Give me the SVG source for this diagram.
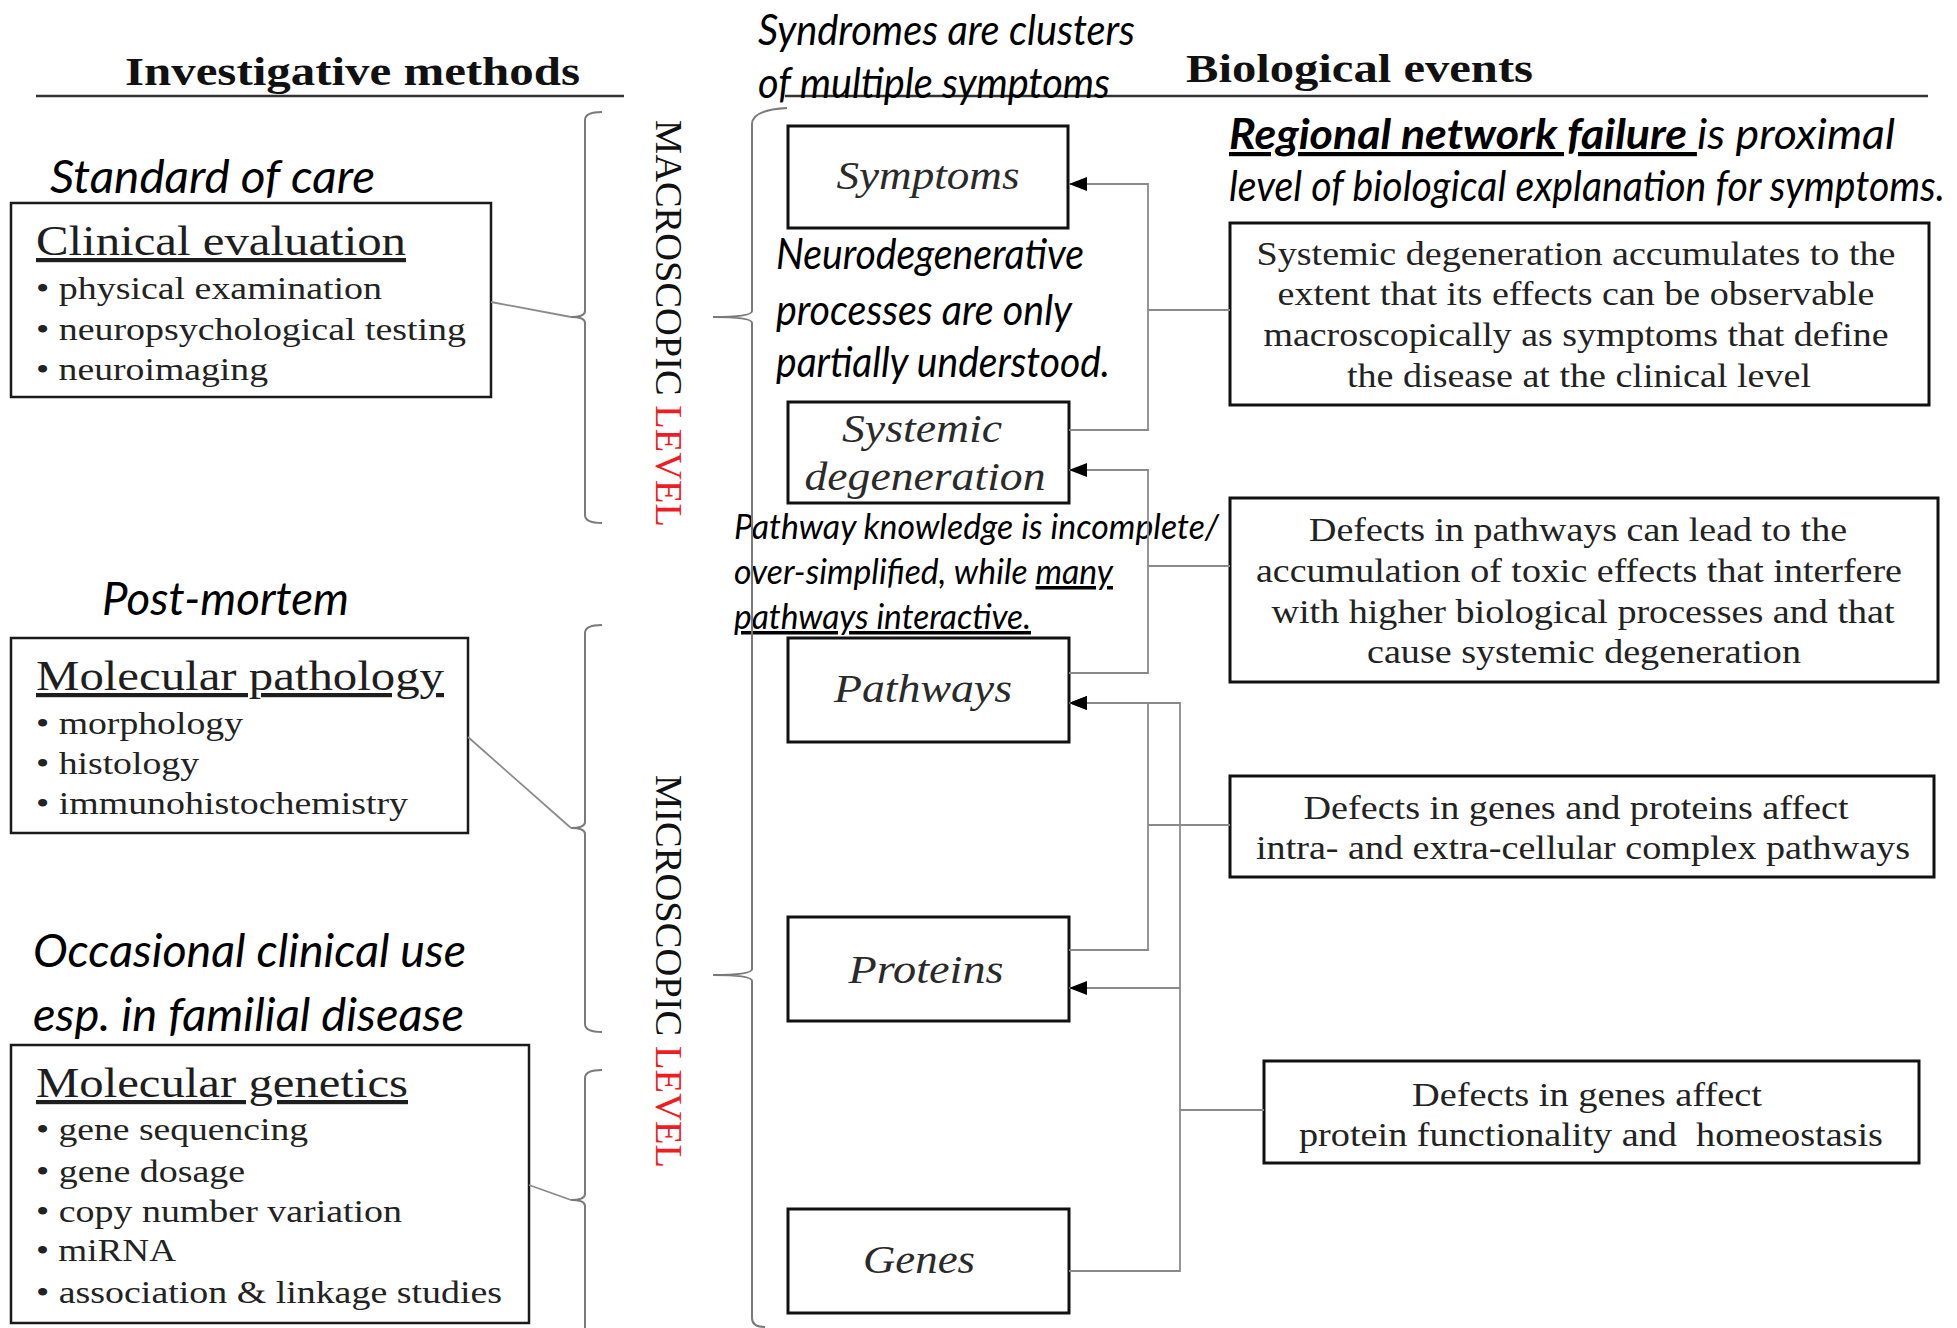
<svg xmlns="http://www.w3.org/2000/svg" width="1957" height="1328" viewBox="0 0 1957 1328">
<style>
.hdr{font-family:"Liberation Serif",serif;font-weight:bold;font-size:40px;fill:#111}
.ann{font-family:Lato,"Open Sans",sans-serif;font-style:italic;fill:#000}
.tt{font-family:"Liberation Serif",serif;font-size:42px;fill:#1e1e1e;text-decoration:underline}
.bl{font-family:"Liberation Serif",serif;font-size:32px;fill:#222}
.bx{fill:#fff;stroke:#111;stroke-width:3}
.lb{fill:#fff;stroke:#1a1a1a;stroke-width:2.5}
.nm{font-family:"Liberation Serif",serif;font-style:italic;font-size:40px;fill:#2a2a2a;text-anchor:middle}
.ds{font-family:"Liberation Serif",serif;font-size:33px;fill:#222;text-anchor:middle}
.cn{fill:none;stroke:#8a8a8a;stroke-width:1.8}
.br{fill:none;stroke:#7a7a7a;stroke-width:2}
.vt{font-family:"Liberation Serif",serif;font-size:38px;fill:#111}
</style>
<defs>
<marker id="ah" markerUnits="userSpaceOnUse" markerWidth="18" markerHeight="14" refX="18" refY="7" orient="auto">
<path d="M0,0 L18,7 L0,14 z" fill="#000"/>
</marker>
</defs>

<g id="headers">
<text class="hdr" x="125" y="85" textLength="455" lengthAdjust="spacingAndGlyphs">Investigative methods</text>
<line x1="36" y1="96" x2="624" y2="96" stroke="#333" stroke-width="2.5"/>
<text class="hdr" x="1186" y="82" textLength="347" lengthAdjust="spacingAndGlyphs">Biological events</text>
<line x1="785" y1="96" x2="1928" y2="96" stroke="#333" stroke-width="2.5"/>
</g>

<g id="annotations">
<text class="ann" x="758" y="45" font-size="42" textLength="377" lengthAdjust="spacingAndGlyphs">Syndromes are clusters</text>
<text class="ann" x="758" y="98" font-size="42" textLength="352" lengthAdjust="spacingAndGlyphs">of multiple symptoms</text>
<text class="ann" x="50" y="193" font-size="46" textLength="325" lengthAdjust="spacingAndGlyphs">Standard of care</text>
<text class="ann" x="102" y="615" font-size="46" textLength="247" lengthAdjust="spacingAndGlyphs">Post-mortem</text>
<text class="ann" x="33" y="967" font-size="46" textLength="433" lengthAdjust="spacingAndGlyphs">Occasional clinical use</text>
<text class="ann" x="33" y="1031" font-size="46" textLength="431" lengthAdjust="spacingAndGlyphs">esp. in familial disease</text>
<text class="ann" x="776" y="269" font-size="43" textLength="308" lengthAdjust="spacingAndGlyphs">Neurodegenerative</text>
<text class="ann" x="776" y="325" font-size="43" textLength="296" lengthAdjust="spacingAndGlyphs">processes are only</text>
<text class="ann" x="776" y="377" font-size="43" textLength="334" lengthAdjust="spacingAndGlyphs">partially understood.</text>
<text class="ann" x="734" y="539" font-size="35" textLength="485" lengthAdjust="spacingAndGlyphs">Pathway knowledge is incomplete/</text>
<text class="ann" x="734" y="584" font-size="35" textLength="379" lengthAdjust="spacingAndGlyphs">over-simplified, while <tspan text-decoration="underline">many</tspan></text>
<text class="ann" x="734" y="629" font-size="35" textLength="297" lengthAdjust="spacingAndGlyphs" text-decoration="underline">pathways interactive.</text>
<text class="ann" x="1229" y="149" font-size="42" textLength="666" lengthAdjust="spacingAndGlyphs"><tspan font-weight="bold" text-decoration="underline">Regional network failure </tspan>is proximal</text>
<text class="ann" x="1229" y="201" font-size="42" textLength="716" lengthAdjust="spacingAndGlyphs">level of biological explanation for symptoms.</text>
</g>

<g id="level-labels">
<text class="vt" transform="translate(656,120) rotate(90)" textLength="407" lengthAdjust="spacingAndGlyphs">MACROSCOPIC <tspan fill="#ee1c24">LEVEL</tspan></text>
<text class="vt" transform="translate(656,775) rotate(90)" textLength="393" lengthAdjust="spacingAndGlyphs">MICROSCOPIC <tspan fill="#ee1c24">LEVEL</tspan></text>
</g>

<g id="node-clinical">
<rect class="lb" x="11" y="203" width="480" height="194"/>
<text class="tt" x="36" y="255" textLength="370" lengthAdjust="spacingAndGlyphs">Clinical evaluation</text>
<text class="bl" x="36" y="299" textLength="346" lengthAdjust="spacingAndGlyphs">• physical examination</text>
<text class="bl" x="36" y="340" textLength="430" lengthAdjust="spacingAndGlyphs">• neuropsychological testing</text>
<text class="bl" x="36" y="380" textLength="232" lengthAdjust="spacingAndGlyphs">• neuroimaging</text>
</g>

<g id="node-pathology">
<rect class="lb" x="11" y="638" width="457" height="195"/>
<text class="tt" x="36" y="690" textLength="408" lengthAdjust="spacingAndGlyphs">Molecular pathology</text>
<text class="bl" x="36" y="734" textLength="207" lengthAdjust="spacingAndGlyphs">• morphology</text>
<text class="bl" x="36" y="774" textLength="163" lengthAdjust="spacingAndGlyphs">• histology</text>
<text class="bl" x="36" y="814" textLength="372" lengthAdjust="spacingAndGlyphs">• immunohistochemistry</text>
</g>

<g id="node-genetics">
<rect class="lb" x="11" y="1045" width="518" height="278"/>
<text class="tt" x="36" y="1097" textLength="372" lengthAdjust="spacingAndGlyphs">Molecular genetics</text>
<text class="bl" x="36" y="1140" textLength="272" lengthAdjust="spacingAndGlyphs">• gene sequencing</text>
<text class="bl" x="36" y="1182" textLength="209" lengthAdjust="spacingAndGlyphs">• gene dosage</text>
<text class="bl" x="36" y="1222" textLength="366" lengthAdjust="spacingAndGlyphs">• copy number variation</text>
<text class="bl" x="36" y="1261" textLength="140" lengthAdjust="spacingAndGlyphs">• miRNA</text>
<text class="bl" x="36" y="1303" textLength="466" lengthAdjust="spacingAndGlyphs">• association &amp; linkage studies</text>
</g>

<g id="node-symptoms">
<rect class="bx" x="788" y="126" width="280" height="102"/>
<text class="nm" x="928" y="189" textLength="183" lengthAdjust="spacingAndGlyphs">Symptoms</text>
</g>
<g id="node-systemic">
<rect class="bx" x="788" y="402" width="281" height="101"/>
<text class="nm" x="922" y="442" textLength="160" lengthAdjust="spacingAndGlyphs">Systemic</text>
<text class="nm" x="925" y="490" textLength="241" lengthAdjust="spacingAndGlyphs">degeneration</text>
</g>
<g id="node-pathways">
<rect class="bx" x="788" y="638" width="281" height="104"/>
<text class="nm" x="923" y="702" textLength="178" lengthAdjust="spacingAndGlyphs">Pathways</text>
</g>
<g id="node-proteins">
<rect class="bx" x="788" y="917" width="281" height="104"/>
<text class="nm" x="926" y="983" textLength="155" lengthAdjust="spacingAndGlyphs">Proteins</text>
</g>
<g id="node-genes">
<rect class="bx" x="788" y="1209" width="281" height="104"/>
<text class="nm" x="919" y="1273" textLength="112" lengthAdjust="spacingAndGlyphs">Genes</text>
</g>

<g id="desc-1">
<rect class="bx" x="1230" y="223" width="699" height="182"/>
<text class="ds" x="1576" y="265" textLength="639" lengthAdjust="spacingAndGlyphs">Systemic degeneration accumulates to the</text>
<text class="ds" x="1576" y="305" textLength="597" lengthAdjust="spacingAndGlyphs">extent that its effects can be observable</text>
<text class="ds" x="1576" y="346" textLength="625" lengthAdjust="spacingAndGlyphs">macroscopically as symptoms that define</text>
<text class="ds" x="1579" y="387" textLength="464" lengthAdjust="spacingAndGlyphs">the disease at the clinical level</text>
</g>
<g id="desc-2">
<rect class="bx" x="1230" y="498" width="708" height="184"/>
<text class="ds" x="1578" y="541" textLength="538" lengthAdjust="spacingAndGlyphs">Defects in pathways can lead to the</text>
<text class="ds" x="1579" y="582" textLength="646" lengthAdjust="spacingAndGlyphs">accumulation of toxic effects that interfere</text>
<text class="ds" x="1583" y="623" textLength="623" lengthAdjust="spacingAndGlyphs">with higher biological processes and that</text>
<text class="ds" x="1584" y="663" textLength="434" lengthAdjust="spacingAndGlyphs">cause systemic degeneration</text>
</g>
<g id="desc-3">
<rect class="bx" x="1230" y="776" width="704" height="101"/>
<text class="ds" x="1576" y="819" textLength="545" lengthAdjust="spacingAndGlyphs">Defects in genes and proteins affect</text>
<text class="ds" x="1583" y="859" textLength="654" lengthAdjust="spacingAndGlyphs">intra- and extra-cellular complex pathways</text>
</g>
<g id="desc-4">
<rect class="bx" x="1264" y="1061" width="655" height="102"/>
<text class="ds" x="1587" y="1106" textLength="350" lengthAdjust="spacingAndGlyphs">Defects in genes affect</text>
<text class="ds" x="1591" y="1146" textLength="584" lengthAdjust="spacingAndGlyphs" xml:space="preserve">protein functionality and  homeostasis</text>
</g>

<g id="brackets">
<path class="br" d="M602,112 Q585,112 585,120 L585,311 Q585,317 571,317 Q585,317 585,323 L585,515 Q585,523 602,523"/>
<path class="br" d="M602,625 Q585,625 585,633 L585,822 Q585,828 571,828 Q585,828 585,834 L585,1024 Q585,1032 602,1032"/>
<path class="br" d="M602,1070 Q585,1070 585,1078 L585,1194 Q585,1200 571,1200 Q585,1200 585,1206 L585,1340"/>
<path class="br" d="M787,108 Q752,110 752,124 L752,311 Q752,317 713,317 Q752,317 752,323 L752,969 Q752,975 713,975 Q752,975 752,981 L752,1318 Q752,1327 765,1327"/>
</g>

<g id="connectors">
<path class="cn" d="M491,302 L571,317"/>
<path class="cn" d="M468,737 L571,828"/>
<path class="cn" d="M529,1185 L571,1200"/>
<path class="cn" d="M1069,430 H1148 V184 H1069" marker-end="url(#ah)"/>
<path class="cn" d="M1069,673 H1148 V470 H1069" marker-end="url(#ah)"/>
<path class="cn" d="M1069,950 H1148 V703 H1069" marker-end="url(#ah)"/>
<path class="cn" d="M1069,1271 H1180 V703 H1069" marker-end="url(#ah)"/>
<path class="cn" d="M1180,988 H1069" marker-end="url(#ah)"/>
<path class="cn" d="M1148,310 H1230"/>
<path class="cn" d="M1148,566 H1230"/>
<path class="cn" d="M1148,825 H1230"/>
<path class="cn" d="M1180,1110 H1264"/>
</g>
</svg>
